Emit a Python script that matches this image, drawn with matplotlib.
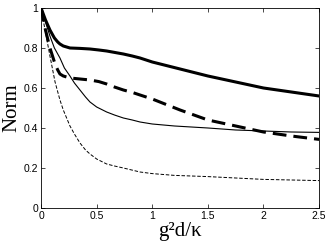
import matplotlib
matplotlib.use("Agg")
import matplotlib.pyplot as plt
from matplotlib.ticker import FormatStrFormatter

# values
x_thick = [0, 0.02, 0.04, 0.06, 0.08, 0.1, 0.12, 0.15, 0.17, 0.2, 0.26, 0.35, 0.44, 0.52, 0.59, 0.66,
           0.74, 0.82, 0.89, 1.0, 1.25, 1.5, 1.75, 2.0, 2.25, 2.5]
y_thick = [1.0, 0.97, 0.94, 0.915, 0.89, 0.87, 0.85, 0.83, 0.82, 0.81, 0.80, 0.798, 0.795, 0.79, 0.785,
           0.778, 0.77, 0.76, 0.75, 0.73, 0.695, 0.66, 0.63, 0.60, 0.58, 0.56]

x_dash = [0, 0.04, 0.08, 0.126, 0.15, 0.17, 0.2, 0.26, 0.35, 0.44, 0.52, 0.59, 0.66, 0.74, 0.82, 0.89,
          1.0, 1.25, 1.5, 1.75, 2.0, 2.25, 2.5]
y_dash = [1.0, 0.89, 0.80, 0.72, 0.69, 0.67, 0.66, 0.65, 0.645, 0.64, 0.632, 0.62, 0.605, 0.59, 0.578, 0.565,
          0.545, 0.49, 0.44, 0.41, 0.38, 0.36, 0.343]

x_thin = [0, 0.04, 0.08, 0.12, 0.17, 0.21, 0.26, 0.3, 0.35, 0.4, 0.44, 0.5, 0.59, 0.66, 0.74, 0.82, 0.89,
          1.0, 1.2, 1.5, 1.75, 2.0, 2.25, 2.5]
y_thin = [1.0, 0.93, 0.86, 0.80, 0.75, 0.70, 0.66, 0.625, 0.59, 0.555, 0.53, 0.505, 0.48, 0.465, 0.45, 0.44, 0.43,
          0.42, 0.41, 0.40, 0.39, 0.385, 0.38, 0.378]

x_tdash = [0, 0.036, 0.08, 0.126, 0.17, 0.2, 0.26, 0.3, 0.35, 0.4, 0.44, 0.5, 0.59, 0.66, 0.74, 0.89,
           1.0, 1.2, 1.5, 1.75, 2.0, 2.25, 2.5]
y_tdash = [1.0, 0.89, 0.76, 0.63, 0.54, 0.49, 0.41, 0.37, 0.325, 0.29, 0.27, 0.245, 0.22, 0.21, 0.20, 0.18,
           0.172, 0.163, 0.157, 0.15, 0.143, 0.14, 0.137]

xticks = [0, 0.5, 1, 1.5, 2, 2.5]
yticks = [0, 0.2, 0.4, 0.6, 0.8, 1]

fig = plt.figure(figsize=(3.31, 2.46), dpi=100)
ax = fig.add_axes([0.124, 0.1545, 0.84, 0.813])

ax.plot(x_thick, y_thick, color="black", lw=2.2)
ax.plot(x_dash, y_dash, color="black", lw=2.2, dashes=(4.5, 2.3))
ax.plot(x_thin, y_thin, color="black", lw=0.8)
ax.plot(x_tdash, y_tdash, color="black", lw=0.7, dashes=(3.6, 1.8))

ax.set_xlim(0, 2.5)
ax.set_ylim(0, 1)
ax.set_xticks(xticks)
ax.set_yticks(yticks)
ax.xaxis.set_major_formatter(FormatStrFormatter("%g"))
ax.yaxis.set_major_formatter(FormatStrFormatter("%g"))
ax.tick_params(direction="in", top=True, right=True, length=3, width=0.5,
               labelsize=7.5, pad=2)
for lab in ax.get_xticklabels() + ax.get_yticklabels():
    lab.set_family("Liberation Sans")
for s in ax.spines.values():
    s.set_linewidth(0.6)

ax.set_ylabel("Norm", family="Liberation Serif", fontsize=15, labelpad=2)
ax.set_xlabel("g²d/κ", family="Liberation Serif", fontsize=15, labelpad=1)

fig.savefig("out.png", dpi=100)
